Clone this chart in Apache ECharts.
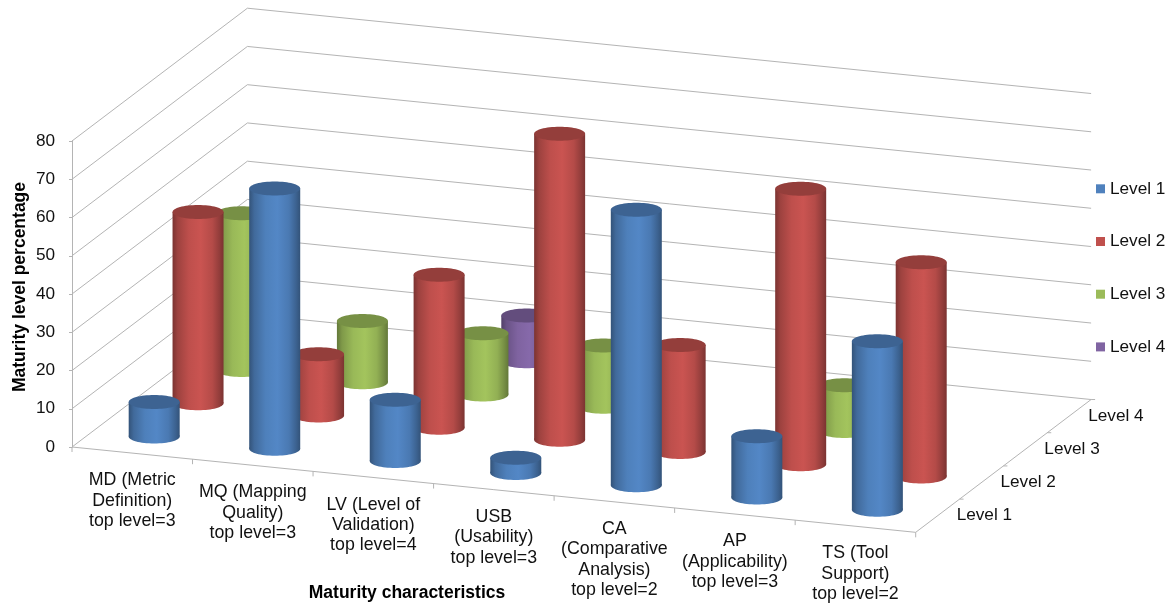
<!DOCTYPE html>
<html>
<head>
<meta charset="utf-8">
<style>html,body{margin:0;padding:0;background:#fff}#chart{width:1175px;height:604px}</style>
<script src="https://cdn.jsdelivr.net/npm/echarts@6/dist/echarts.min.js"></script>
</head>
<body>
<div id="chart"></div>
<script>
// Maturity level share per characteristic, one array per level
const categories = [
  'MD (Metric\nDefinition)\ntop level=3',
  'MQ (Mapping\nQuality)\ntop level=3',
  'LV (Level of\nValidation)\ntop level=4',
  'USB\n(Usability)\ntop level=3',
  'CA\n(Comparative\nAnalysis)\ntop level=2',
  'AP\n(Applicability)\ntop level=3',
  'TS (Tool\nSupport)\ntop level=2'
];
const levelNames = ['Level 1', 'Level 2', 'Level 3', 'Level 4'];
const level1 = [9, 68, 16, 4, 72, 16, 44];
const level2 = [50, 16, 40, 80, 28, 72, 56];
const level3 = [41, 16, 16, 16, null, 12, null];
const level4 = [null, null, 12, null, null, null, null];
const levelValues = [level1, level2, level3, level4];
const levelColors = ['#4F81BD', '#C0504D', '#9BBB59', '#8064A2'];
const valueTicks = [0, 10, 20, 30, 40, 50, 60, 70, 80];

// Oblique projection of the 3D box onto the page
const RUN_PER_CATEGORY = 12.19;   // front edge falls this far per category
const DEPTH_DX = 43.85;           // page shift per depth step
const DEPTH_DY = 33.2;
const BAR_RX = 25.5;
const BAR_RY = 7;
const LINE_COLOR = '#b4b4b4';
const TEXT_COLOR = '#111';
const FONT = '"Liberation Sans", Arial, sans-serif';
const TEXT_SIZE = 17.2;
const CATEGORY_TEXT_SIZE = 17.8;
const TITLE_SIZE = 17.5;

function project(api, xPos, depthPos, value) {
  const p = api.coord([xPos, value]);
  return [p[0] + depthPos * DEPTH_DX, p[1] + xPos * RUN_PER_CATEGORY - depthPos * DEPTH_DY];
}

function lineEl(points) {
  return {
    type: 'polyline',
    shape: { points: points },
    style: { stroke: LINE_COLOR, lineWidth: 1, fill: null }
  };
}

// Back and side wall gridline for one value tick
function renderWallLine(params, api) {
  const v = api.value(0);
  const n = categories.length, d = levelNames.length;
  return lineEl([project(api, 0, 0, v), project(api, 0, d, v), project(api, n, d, v)]);
}

// Floor edges with their tick marks and labels
function renderFloor(params, api) {
  const n = categories.length, d = levelNames.length;
  const children = [lineEl([project(api, 0, 0, 0), project(api, n, 0, 0), project(api, n, d, 0)])];
  for (let i = 0; i <= n; i++) {
    const p = project(api, i, 0, 0);
    children.push(lineEl([p, [p[0], p[1] + 5]]));
  }
  for (let j = 1; j <= d; j++) {
    const p = project(api, n, j, 0);
    children.push(lineEl([p, [p[0] + 4, p[1]]]));
  }
  categories.forEach(function (label, i) {
    const p = project(api, i + 0.5, 0, 0);
    children.push({
      type: 'text',
      style: {
        text: label, x: p[0], y: p[1] + 17, align: 'center', verticalAlign: 'top',
        fontSize: CATEGORY_TEXT_SIZE, fontFamily: FONT, lineHeight: 20.4, fill: TEXT_COLOR
      }
    });
  });
  levelNames.forEach(function (label, j) {
    const p = project(api, n, j + 0.5, 0);
    children.push({
      type: 'text',
      style: {
        text: label, x: p[0] + 19, y: p[1], align: 'left', verticalAlign: 'middle',
        fontSize: TEXT_SIZE, fontFamily: FONT, fill: TEXT_COLOR
      }
    });
  });
  return { type: 'group', children: children };
}

// Multiply a hex colour's channels by a factor
function shade(hex, factor) {
  const channels = [1, 3, 5].map(function (at) {
    return Math.min(255, Math.round(parseInt(hex.substr(at, 2), 16) * factor));
  });
  return 'rgb(' + channels.join(',') + ')';
}

// Rounded-side shading: dark edges, highlight just right of centre
function cylinderFill(color) {
  return new echarts.graphic.LinearGradient(0, 0, 1, 0, [
    { offset: 0, color: shade(color, 0.64) },
    { offset: 0.1, color: shade(color, 0.82) },
    { offset: 0.32, color: shade(color, 0.99) },
    { offset: 0.55, color: shade(color, 1.05) },
    { offset: 0.78, color: shade(color, 0.94) },
    { offset: 0.92, color: shade(color, 0.76) },
    { offset: 1, color: shade(color, 0.64) }
  ]);
}

function renderCylinder(depth, color) {
  return function (params, api) {
    const x = api.value(0), v = api.value(1);
    const base = project(api, x + 0.5, depth + 0.5, 0);
    const top = project(api, x + 0.5, depth + 0.5, v);
    const fill = cylinderFill(color);
    return {
      type: 'group',
      children: [
        { type: 'ellipse', shape: { cx: base[0], cy: base[1], rx: BAR_RX, ry: BAR_RY }, style: { fill: fill } },
        { type: 'rect', shape: { x: base[0] - BAR_RX, y: top[1], width: BAR_RX * 2, height: base[1] - top[1] }, style: { fill: fill } },
        { type: 'ellipse', shape: { cx: top[0], cy: top[1], rx: BAR_RX, ry: BAR_RY }, style: { fill: shade(color, 0.77) } }
      ]
    };
  };
}

// Deeper levels first, so nearer cylinders paint over them
const cylinderSeries = levelNames.map(function (name, depth) {
  return {
    type: 'custom',
    name: name,
    coordinateSystem: 'cartesian2d',
    clip: false,
    silent: true,
    itemStyle: { color: levelColors[depth] },
    encode: { x: 0, y: 1 },
    data: levelValues[depth]
      .map(function (v, i) { return [i, v]; })
      .filter(function (d) { return d[1] !== null; }),
    renderItem: renderCylinder(depth, levelColors[depth])
  };
}).reverse();

const chart = echarts.init(document.getElementById('chart'), null, { renderer: 'canvas' });
chart.setOption({
  animation: false,
  backgroundColor: '#fff',
  grid: { left: 72, top: 141, width: 843.7, height: 306 },
  xAxis: { type: 'value', min: 0, max: categories.length, show: false },
  yAxis: {
    type: 'value', min: 0, max: 80, interval: 10,
    axisLine: { show: true, lineStyle: { color: LINE_COLOR } },
    axisTick: { show: true, length: 3, lineStyle: { color: LINE_COLOR } },
    splitLine: { show: false },
    axisLabel: { fontSize: TEXT_SIZE, fontFamily: FONT, color: TEXT_COLOR, margin: 17 }
  },
  legend: {
    left: 1091, top: 175.3, orient: 'vertical',
    data: levelNames, icon: 'rect', itemWidth: 9, itemHeight: 9, itemGap: 35.7,
    textStyle: { fontSize: TEXT_SIZE, fontFamily: FONT, color: TEXT_COLOR }
  },
  graphic: [
    {
      type: 'text', x: 407, y: 593,
      style: { text: 'Maturity characteristics', align: 'center', verticalAlign: 'middle', fontSize: TITLE_SIZE, fontWeight: 'bold', fontFamily: FONT, fill: '#000' }
    },
    {
      type: 'text', x: 20.5, y: 287, rotation: Math.PI / 2,
      style: { text: 'Maturity level percentage', align: 'center', verticalAlign: 'middle', fontSize: TITLE_SIZE, fontWeight: 'bold', fontFamily: FONT, fill: '#000' }
    }
  ],
  series: [
    {
      type: 'custom', name: 'walls', coordinateSystem: 'cartesian2d', clip: false, silent: true,
      encode: { x: -1, y: 0 }, data: valueTicks.map(function (v) { return [v]; }), renderItem: renderWallLine
    },
    {
      type: 'custom', name: 'floor', coordinateSystem: 'cartesian2d', clip: false, silent: true,
      encode: { y: 0 }, data: [[0]], renderItem: renderFloor
    }
  ].concat(cylinderSeries)
});
</script>
</body>
</html>
